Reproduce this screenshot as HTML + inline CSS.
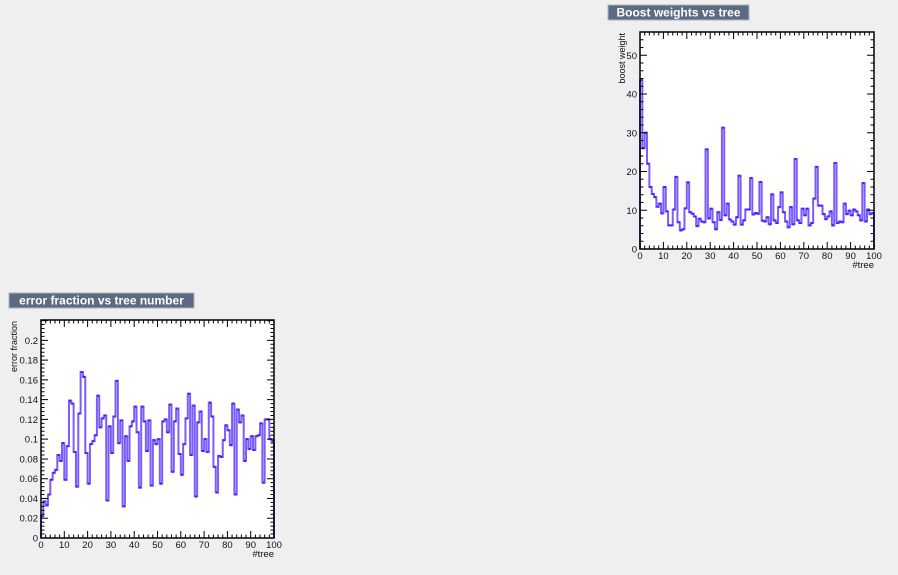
<!DOCTYPE html>
<html><head><meta charset="utf-8"><style>
html,body{margin:0;padding:0;background:#efefef;}
svg{display:block;font-family:"Liberation Sans",sans-serif;}
</style></head><body>
<svg id="c" width="898" height="575"></svg>
<script>
const boostX = Array.from({length:100},(_, i)=>i);
const boostValues = [43.6,26,30,22,16,14.2,13.4,10.9,11.7,9.2,16,9.7,6.1,6.1,10.2,18.6,6.9,4.8,5.1,10.5,17.2,9.5,9.1,8.4,5.9,7.8,7.1,6.9,25.7,7.9,10.4,6.9,5.1,9.5,7.5,31.3,8.7,11.7,7.6,7.1,6.3,8.2,18.9,6.3,7.4,10.2,10.2,18.3,8.9,9.3,9.1,17.3,7.3,7.1,8.2,6.4,14.1,7.4,6.7,10.8,14.6,9.5,7.1,5.6,10.8,6.4,23.2,7.4,6.7,10.4,8.7,10.4,6.1,6.7,13,21.2,11.2,11.2,9,7.7,8.4,9.7,6.1,22.2,6.7,7.1,6.9,11.7,9,9.9,8.7,10.2,9.7,8.7,7.4,17,7.1,10.2,9,9.3];
const boostYTicks = [0,10,20,30,40,50];
const errValues = [0.022,0.037,0.033,0.044,0.059,0.066,0.069,0.084,0.078,0.096,0.059,0.093,0.139,0.136,0.087,0.052,0.126,0.168,0.163,0.086,0.055,0.095,0.098,0.104,0.144,0.112,0.121,0.124,0.038,0.113,0.086,0.123,0.159,0.096,0.119,0.032,0.103,0.078,0.113,0.118,0.133,0.107,0.051,0.133,0.118,0.088,0.119,0.053,0.099,0.095,0.1,0.055,0.118,0.12,0.107,0.135,0.067,0.118,0.131,0.085,0.064,0.095,0.121,0.146,0.084,0.134,0.042,0.117,0.128,0.088,0.1,0.087,0.137,0.123,0.072,0.046,0.083,0.082,0.099,0.114,0.109,0.094,0.136,0.044,0.13,0.117,0.124,0.078,0.1,0.09,0.103,0.089,0.103,0.104,0.116,0.056,0.12,0.12,0.1,0.098];
const errYTicks = [0,0.02,0.04,0.06,0.08,0.1,0.12,0.14,0.16,0.18,0.2];
const xTicks = [0,10,20,30,40,50,60,70,80,90,100];

const NS="http://www.w3.org/2000/svg";
const svg=document.getElementById('c');
function mk(tag,attrs,parent){const e=document.createElementNS(NS,tag);for(const k in attrs)e.setAttribute(k,attrs[k]);(parent||svg).appendChild(e);return e;}

function chart(o){
  const g=mk('g',{});
  
  
  const X=v=>o.x0+(v/100)*(o.x1-o.x0);
  const Y=v=>o.y1-(v/o.ymax)*(o.y1-o.y0);
  // title
  const tb=mk('rect',{x:o.tx,y:o.ty,width:o.tw,height:15,fill:'#5c6b82',stroke:'#a9b3c2','stroke-width':1},g);
  
  
  const tt=mk('text',{x:o.tx+o.tw/2,y:o.ty+11.5,'text-anchor':'middle',fill:'#fff','font-size':'12','font-weight':'bold'},g);
  tt.textContent=o.title;
  
  
  // frame
  const fr=mk('rect',{x:o.x0,y:o.y0,width:o.x1-o.x0,height:o.y1-o.y0,fill:'#fffffd'},g);
  
  
  // data step line
  let d='M'+X(0)+','+o.y1;
  o.values.forEach((v,i)=>{d+=' L'+X(i)+','+Y(v)+' L'+X(i+1)+','+Y(v);});
  d+=' L'+X(100)+','+o.y1;
  const p=mk('path',{d:d,fill:'none',stroke:'#7b5cff','stroke-width':2,'stroke-linejoin':'miter'},g);
  
  
  o.values.forEach((v,i)=>{
    const m=mk('rect',{x:X(i+0.5)-1,y:Y(v)-1,width:2,height:2,fill:'#3a1cff'},g);
    
    
  });
  // ticks
  let td='';
  for(let v=0;v<=100;v+=2){const x=X(v);const L=(v%10===0)?7:3.5;td+=`M${x},${o.y1}v${-L}M${x},${o.y0}v${L}`;}
  const minorStep=o.ymajor/5;
  for(let k=0;o.ymajor*0+k*minorStep<=o.ymax+1e-9;k++){const v=k*minorStep;const y=Y(v);const L=(k%5===0)?7:3.5;td+=`M${o.x0},${y}h${L}M${o.x1},${y}h${-L}`;}
  mk('path',{d:td,stroke:'#000','stroke-width':1,fill:'none'},g);
  const bd=mk('rect',{x:o.x0,y:o.y0,width:o.x1-o.x0,height:o.y1-o.y0,fill:'none',stroke:'#000','stroke-width':1.5},g);
  
  
  xTicks.forEach(v=>{
    const t=mk('text',{x:X(v),y:o.y1+10,'text-anchor':'middle','font-size':'9.5',fill:'#111'},g);
    t.textContent=String(v);
    
    
  });
  o.yticks.forEach(v=>{
    const t=mk('text',{x:o.x0-3,y:Y(v)+3.5,'text-anchor':'end','font-size':'9.5',fill:'#111'},g);
    t.textContent=String(v);
    
    
  });
  const xt=mk('text',{x:o.x1,y:o.y1+19,'text-anchor':'end','font-size':'9.5',fill:'#111'},g);
  xt.textContent='#tree';
  
  
  const yt=mk('text',{x:0,y:0,'text-anchor':'end','font-size':'9',fill:'#111',transform:`translate(${o.ylx},${o.y0+1}) rotate(-90)`},g);
  yt.textContent=o.ylabel;
  
  
}
chart({name:'boost-weights-chart',title:'Boost weights vs tree',tx:608,ty:5,tw:141,x0:640,x1:874,y0:32,y1:249,ymax:56,ymajor:10,values:boostValues,yticks:boostYTicks,ylabel:'boost weight',ylx:625});
chart({name:'error-fraction-chart',title:'error fraction vs tree number',tx:9,ty:293,tw:185,x0:41,x1:274,y0:320,y1:538,ymax:0.2206,ymajor:0.02,values:errValues,yticks:errYTicks,ylabel:'error fraction',ylx:17});
</script>
</body></html>
